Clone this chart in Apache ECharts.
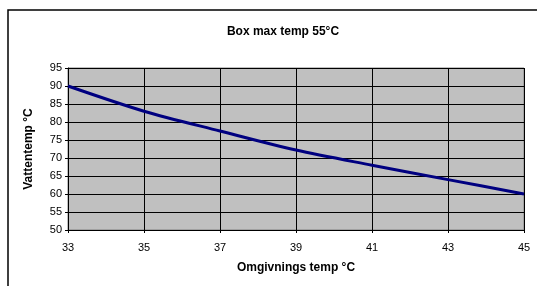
<!DOCTYPE html>
<html>
<head>
<meta charset="utf-8">
<script src="https://cdn.jsdelivr.net/npm/echarts@6/dist/echarts.min.js"></script>
<style>
  html, body { margin: 0; padding: 0; background: #fff; }
  #main { width: 537px; height: 286px; }
</style>
</head>
<body>
<div id="main"></div>
<script>
// omgivningstemperatur (x) och vattentemperatur (y)
var omgivning = [33, 35, 37, 39, 41, 43, 45];
var vattentemp = [90, 83, 77.5, 72.2, 68, 64, 60];

var chart = echarts.init(document.getElementById('main'));

var option = {
  backgroundColor: '#FFFFFF',
  animation: false,
  textStyle: { fontFamily: 'Liberation Sans, Arial, sans-serif' },
  title: {
    text: 'Box max temp 55°C',
    left: 278,
    top: 21,
    textAlign: 'center',
    textStyle: { fontSize: 12, fontWeight: 'bold', color: '#000' }
  },
  // ram runt hela diagrammet
  graphic: [{
    type: 'rect',
    shape: { x: 8, y: 10, width: 560, height: 300 },
    style: { fill: 'none', stroke: '#000', lineWidth: 1.5 },
    silent: true
  }],
  grid: {
    left: 68,
    right: 13,
    top: 68,
    bottom: 56,
    containLabel: false,
    outerBoundsMode: 'none',
    show: true,
    backgroundColor: '#C0C0C0',
    borderColor: '#808080',
    borderWidth: 1
  },
  xAxis: {
    type: 'value',
    min: 33,
    max: 45,
    interval: 2,
    name: 'Omgivnings temp °C',
    nameLocation: 'middle',
    nameGap: 32,
    nameTextStyle: { fontSize: 12, fontWeight: 'bold', color: '#000' },
    axisLine: { show: true, onZero: false, lineStyle: { color: '#000', width: 1 } },
    axisTick: { show: true, length: 3, lineStyle: { color: '#000' } },
    axisLabel: { fontSize: 11, color: '#000', margin: 12 },
    splitLine: { show: true, lineStyle: { color: '#000', width: 1 } }
  },
  yAxis: {
    type: 'value',
    min: 50,
    max: 95,
    interval: 5,
    name: 'Vattentemp °C',
    nameLocation: 'middle',
    nameGap: 33,
    nameTextStyle: { fontSize: 12, fontWeight: 'bold', color: '#000' },
    axisLine: { show: true, lineStyle: { color: '#000', width: 1 } },
    axisTick: { show: true, length: 3, lineStyle: { color: '#000' } },
    axisLabel: { fontSize: 11, color: '#000', margin: 6 },
    splitLine: { show: true, lineStyle: { color: '#000', width: 1 } }
  },
  series: [{
    type: 'line',
    data: omgivning.map(function (x, i) { return [x, vattentemp[i]]; }),
    smooth: 0.3,
    symbol: 'none',
    lineStyle: { color: '#000080', width: 3 }
  }]
};

chart.setOption(option);
</script>
</body>
</html>
